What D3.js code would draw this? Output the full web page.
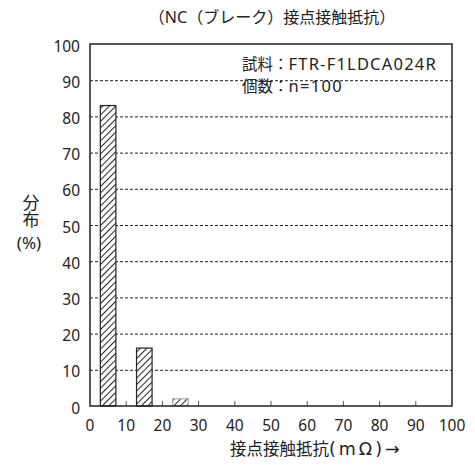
<!DOCTYPE html>
<html><head><meta charset="utf-8">
<script src="https://cdn.jsdelivr.net/npm/d3@7/dist/d3.min.js"></script>
<style>body{margin:0;background:#fff}svg{display:block}text{font-family:"Noto Sans","Noto Sans CJK JP",sans-serif;fill:#222}</style>
</head><body>
<script>
const binCenters = [5, 15, 25];
const values = [83, 16, 2];
const xTicks = [0,10,20,30,40,50,60,70,80,90,100];
const yTicks = [0,10,20,30,40,50,60,70,80,90,100];
const title = "（NC（ブレーク）接点接触抵抗）";
const notes = [["試料：", "FTR-F1LDCA024R"], ["個数：", "n=100"]];
const xTitle = ["接点接触抵抗", "(mΩ)→"];
const yTitle = ["分布", "(%)"];

const W = 475, H = 465;
const svg = d3.select("body").append("svg").attr("width", W).attr("height", H);
const L = 90, R = 452, T = 44, B = 406;
const x = d3.scaleLinear().domain([0,100]).range([L,R]);
const y = d3.scaleLinear().domain([0,100]).range([B,T]);

const defs = svg.append("defs");
const pat = defs.append("pattern").attr("id","hatch").attr("patternUnits","userSpaceOnUse")
  .attr("width",4.6).attr("height",4.6).attr("patternTransform","rotate(45)");
pat.append("rect").attr("width",4.6).attr("height",4.6).attr("fill","#fff");
pat.append("line").attr("x1",0.5).attr("y1",0).attr("x2",0.5).attr("y2",4.6).attr("stroke","#222").attr("stroke-width",1);

// grid
svg.append("g").selectAll("line").data(yTicks.filter(d=>d>0&&d<100)).join("line")
  .attr("x1",L).attr("x2",R).attr("y1",d=>y(d)+0.5).attr("y2",d=>y(d)+0.5)
  .attr("stroke","#222").attr("stroke-width",1).attr("stroke-dasharray","3,2");

// bars
const bw = x(4.3)-x(0);
svg.append("g").selectAll("rect").data(values).join("rect")
  .attr("x",(d,i)=>x(binCenters[i])-bw/2).attr("width",bw)
  .attr("y",d=>y(d)).attr("height",d=>B-y(d))
  .attr("fill","url(#hatch)")
  .attr("stroke",(d,i)=>d<5?"#aaa":"#222").attr("stroke-width",1.2);

// x ticks inward
svg.append("g").selectAll("line").data(xTicks.filter(d=>d>0&&d<100)).join("line")
  .attr("x1",d=>x(d)).attr("x2",d=>x(d)).attr("y1",B).attr("y2",B-5)
  .attr("stroke","#555").attr("stroke-width",1);

// frame
svg.append("rect").attr("x",L).attr("y",T).attr("width",R-L).attr("height",B-T)
  .attr("fill","none").attr("stroke","#222").attr("stroke-width",1.5);

// tick labels
svg.append("g").selectAll("text").data(xTicks).join("text")
  .attr("x",d=>x(d)).attr("y",B+25).attr("text-anchor","middle").attr("font-size",15.5).text(d=>d);
svg.append("g").selectAll("text").data(yTicks).join("text")
  .attr("x",L-10).attr("y",d=>y(d)+7.5).attr("text-anchor","end").attr("font-size",15.5).text(d=>d);

svg.append("text").attr("x",272).attr("y",23).attr("text-anchor","middle").attr("font-size",16)
  .attr("font-family","Noto Sans CJK JP").text(title);
notes.forEach((t,i)=>{
  const tx = svg.append("text").attr("x",242).attr("y",70+i*22);
  tx.append("tspan").attr("font-size",15.5).attr("font-family","Noto Sans CJK JP").text(t[0]);
  tx.append("tspan").attr("font-size",16.5).attr("letter-spacing",i==0?1.2:1.3).text(t[1]);
});
const xt = svg.append("text").attr("x",230).attr("y",454.5);
xt.append("tspan").attr("font-size",16.5).attr("font-family","Noto Sans CJK JP").text(xTitle[0]);
xt.append("tspan").attr("font-size",17.5).attr("font-family","DejaVu Sans").attr("letter-spacing",3).text(xTitle[1]);
svg.append("text").attr("x",30).attr("y",194).attr("font-size",17).attr("font-family","Noto Sans CJK JP")
  .style("writing-mode","vertical-rl").text(yTitle[0]);
svg.append("text").attr("x",29).attr("y",249).attr("text-anchor","middle").attr("font-size",17)
  .attr("font-family","DejaVu Sans").text(yTitle[1]);
</script>
</body></html>
